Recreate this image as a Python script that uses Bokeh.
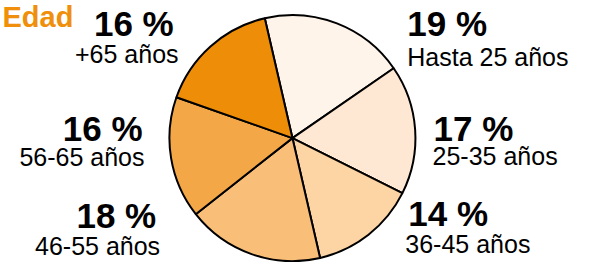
import math
from bokeh.plotting import figure
from bokeh.models import ColumnDataSource, Range1d
from bokeh.core.properties import value
from bokeh.embed import file_html
from bokeh.resources import INLINE

# ---- data ----
categories = ["Hasta 25 años", "25-35 años", "36-45 años", "46-55 años", "56-65 años", "+65 años"]
values = [19, 17, 14, 18, 16, 16]
colors = ["#FEF4E9", "#FEE8D4", "#FDD4A4", "#F9BE78", "#F4A746", "#EE8E08"]
title = "Edad"

# ---- layout (reference-image coords: x right, Y down, 595 x 278) ----
W, H = 579, 262
cx, cY, r_px = 300, 146, 123
start_offset = -13.0  # degrees, clockwise from 12 o'clock
pct_x = [418, 445, 419, 160, 146, 178]
pct_Y = [36, 147, 237, 240, 147, 36]
cat_x = [418, 444, 416, 164, 148, 183]
cat_Y = [71, 177, 270, 272, 178, 68]
label_align = ["left", "left", "left", "right", "right", "right"]
text_shift = 11.5  # compensate renderer's baseline placement

def Y(v):
    return 278 - v

def TY(v):
    return 278 - (v - text_shift)

p = figure(width=W, height=H, x_range=Range1d(0, 595), y_range=Range1d(0, 278),
           x_axis_type=None, y_axis_type=None, toolbar_location=None,
           output_backend="svg", min_border=0, outline_line_color=None)
p.grid.visible = False
p.background_fill_color = "white"
p.border_fill_color = "white"

total = float(sum(values))
starts, ends = [], []
acc = start_offset
for v in values:
    a0 = acc
    a1 = acc + v / total * 360.0
    starts.append(math.radians(90 - a0))
    ends.append(math.radians(90 - a1))
    acc = a1

src = ColumnDataSource(dict(x=[cx] * len(values), y=[Y(cY)] * len(values),
                            start=starts, end=ends, color=colors, cat=categories))
p.wedge(x="x", y="y", radius=r_px, radius_units="screen", start_angle="start", end_angle="end",
        direction="clock", fill_color="color", line_color="black", line_width=2, source=src)

font = value("Liberation Sans")
for i, (cat, v) in enumerate(zip(categories, values)):
    al = label_align[i]
    p.text(x=[pct_x[i]], y=[TY(pct_Y[i])], text=[f"{v} %"], text_font=font, text_font_size="35px",
           text_font_style="bold", text_align=al, text_baseline="alphabetic", text_color="black")
    p.text(x=[cat_x[i]], y=[TY(cat_Y[i])], text=[cat], text_font=font, text_font_size="25px",
           text_align=al, text_baseline="alphabetic", text_color="black")

p.text(x=[2], y=[TY(29)], text=[title], text_font=font, text_font_size="29px",
       text_font_style="bold", text_align="left", text_baseline="alphabetic", text_color="#EF8F0B")

open("out.html", "w").write(file_html(p, INLINE))
